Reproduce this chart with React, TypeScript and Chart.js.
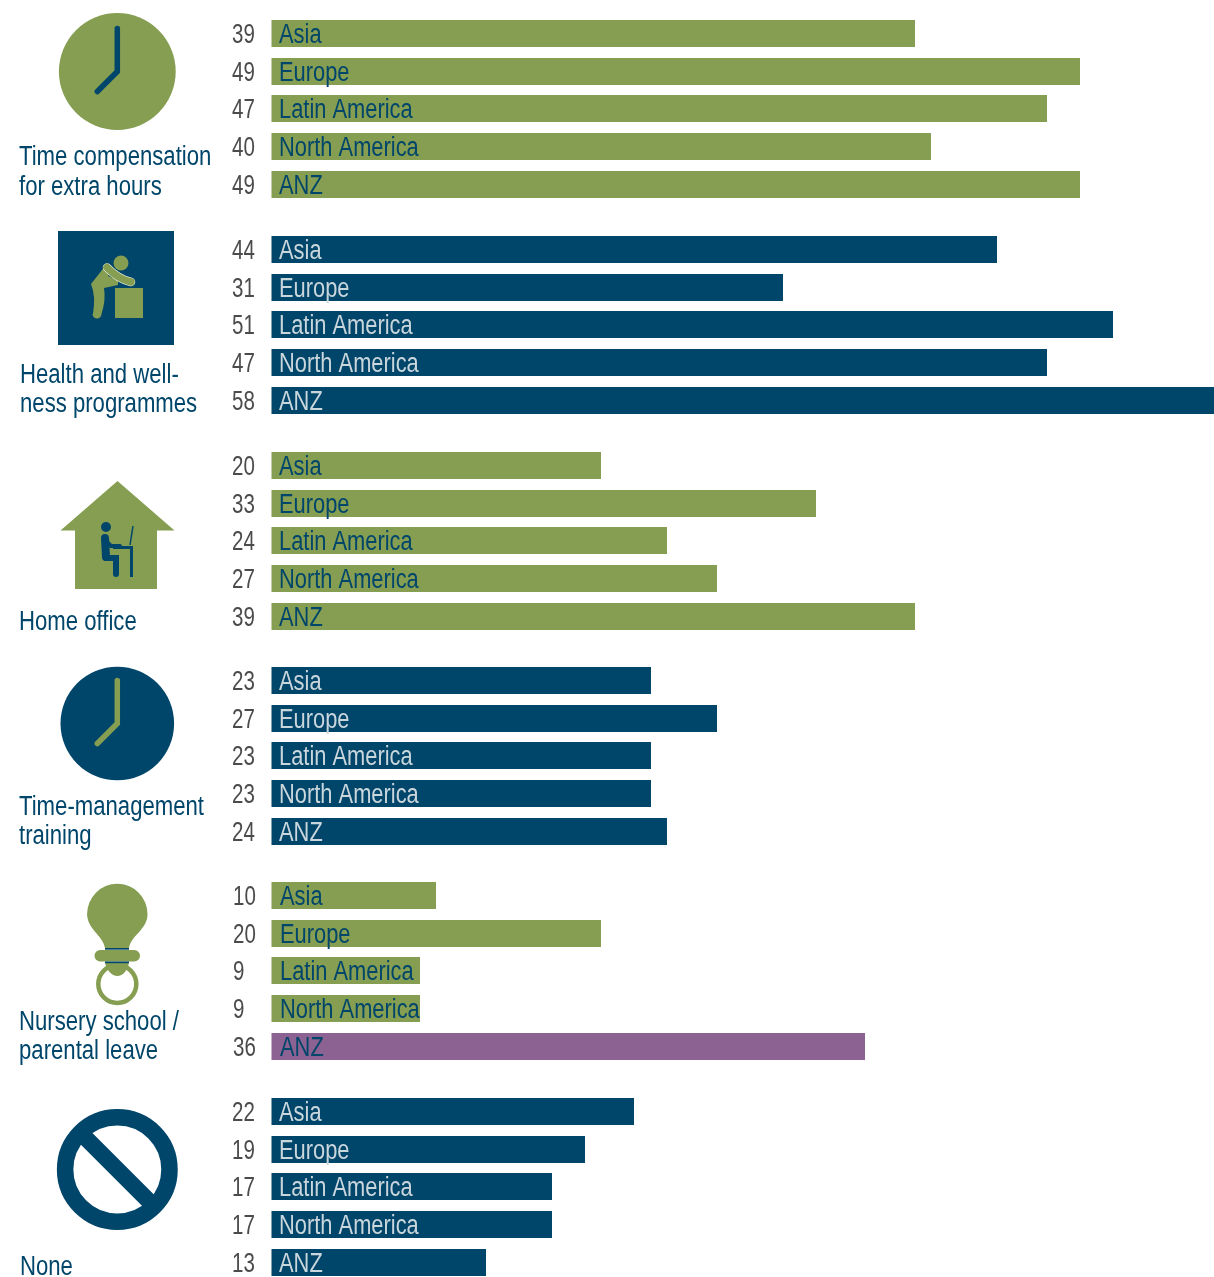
import React, { useEffect, useRef } from "react";
import { Chart, registerables } from "chart.js";

Chart.register(...registerables);

const regions = ["Asia", "Europe", "Latin America", "North America", "ANZ"];
const timeCompensation = [39, 49, 47, 40, 49];
const healthWellness = [44, 31, 51, 47, 58];
const homeOffice = [20, 33, 24, 27, 39];
const timeManagement = [23, 27, 23, 23, 24];
const nurserySchool = [10, 20, 9, 9, 36];
const noneOfThem = [22, 19, 17, 17, 13];

const groupValues = [timeCompensation, healthWellness, homeOffice, timeManagement, nurserySchool, noneOfThem];

const GREEN = "#859E51";
const NAVY = "#00456A";
const PURPLE = "#8B6291";
const VALUE_TEXT = "#4B4B4D";
const LIGHT_TEXT = "#C9D6DC";

const groupColors = [GREEN, NAVY, GREEN, NAVY, GREEN, NAVY];
const groupTitles: { text: string; x: number; y: number }[][] = [
  [{ text: "Time compensation", x: 19, y: 165 }, { text: "for extra hours", x: 19, y: 195 }],
  [{ text: "Health and well-", x: 20, y: 383 }, { text: "ness programmes", x: 20, y: 412 }],
  [{ text: "Home office", x: 19, y: 630 }],
  [{ text: "Time-management", x: 19, y: 815 }, { text: "training", x: 19, y: 844 }],
  [{ text: "Nursery school /", x: 19, y: 1030 }, { text: "parental leave", x: 19, y: 1059 }],
  [{ text: "None", x: 20, y: 1275 }],
];

// first row of each group, in row units of the y scale
const groupStarts = [0, 5.729, 11.459, 17.162, 22.865, 28.594];
const FONT = '27px "Liberation Sans", Arial, sans-serif';
const TEXT_SQUEEZE = 0.81;
const TITLE_SQUEEZE = 0.82;
const VALUE_SQUEEZE = 0.76;

function fillNarrow(ctx: CanvasRenderingContext2D, text: string, x: number, y: number, sx = TEXT_SQUEEZE) {
  ctx.save();
  ctx.translate(x, y);
  ctx.scale(sx, 1);
  ctx.fillText(text, 0, 0);
  ctx.restore();
}

function clock(ctx: CanvasRenderingContext2D, cx: number, cy: number, r: number, bg: string, hand: string) {
  ctx.fillStyle = bg;
  ctx.beginPath();
  ctx.arc(cx, cy, r, 0, Math.PI * 2);
  ctx.fill();
  ctx.strokeStyle = hand;
  ctx.lineWidth = 5.5;
  ctx.lineCap = "round";
  ctx.lineJoin = "miter";
  ctx.beginPath();
  ctx.moveTo(cx, cy - 43);
  ctx.lineTo(cx, cy);
  ctx.lineTo(cx - 20, cy + 20);
  ctx.stroke();
}

function drawIcons(ctx: CanvasRenderingContext2D) {
  ctx.save();
  clock(ctx, 117.3, 71.5, 58.4, GREEN, NAVY);

  // Health
  ctx.fillStyle = NAVY;
  ctx.fillRect(58, 231, 116, 114);
  ctx.fillStyle = GREEN;
  ctx.fillRect(115, 288, 28, 30);
  ctx.beginPath();
  ctx.arc(121, 263, 7.5, 0, Math.PI * 2);
  ctx.fill();
  ctx.beginPath();
  ctx.moveTo(106, 265);
  ctx.lineTo(91, 284);
  ctx.quadraticCurveTo(96, 296, 93, 314);
  ctx.arc(97, 314, 4.5, Math.PI, 0, true);
  ctx.quadraticCurveTo(106, 300, 104, 288);
  ctx.lineTo(118, 285);
  ctx.lineTo(118, 280);
  ctx.lineTo(108, 276);
  ctx.lineTo(112, 270);
  ctx.closePath();
  ctx.fill();
  ctx.lineCap = "round";
  ctx.strokeStyle = "#E8EEE0";
  ctx.lineWidth = 8.5;
  ctx.beginPath();
  ctx.moveTo(107, 267.5);
  ctx.quadraticCurveTo(118, 279, 131, 282);
  ctx.stroke();
  ctx.strokeStyle = GREEN;
  ctx.lineWidth = 7.5;
  ctx.stroke();

  // House
  ctx.fillStyle = GREEN;
  ctx.beginPath();
  ctx.moveTo(117.5, 481);
  ctx.lineTo(174.5, 530.5);
  ctx.lineTo(157, 530.5);
  ctx.lineTo(157, 589);
  ctx.lineTo(75, 589);
  ctx.lineTo(75, 530.5);
  ctx.lineTo(60.5, 530.5);
  ctx.closePath();
  ctx.fill();
  ctx.fillStyle = NAVY;
  ctx.strokeStyle = NAVY;
  ctx.beginPath();
  ctx.arc(106, 527, 5, 0, Math.PI * 2);
  ctx.fill();
  ctx.lineCap = "round";
  ctx.lineWidth = 8;
  ctx.beginPath();
  ctx.moveTo(105, 538);
  ctx.lineTo(106, 557);
  ctx.stroke();
  ctx.lineWidth = 6;
  ctx.beginPath();
  ctx.moveTo(106, 558);
  ctx.lineTo(116, 558);
  ctx.lineTo(116, 574);
  ctx.stroke();
  ctx.lineWidth = 4;
  ctx.beginPath();
  ctx.moveTo(106, 541);
  ctx.lineTo(111, 546);
  ctx.lineTo(120, 546);
  ctx.stroke();
  ctx.lineCap = "butt";
  ctx.lineWidth = 3;
  ctx.beginPath();
  ctx.moveTo(113, 547.5);
  ctx.lineTo(133, 547.5);
  ctx.moveTo(131.5, 547);
  ctx.lineTo(131.5, 577);
  ctx.stroke();
  ctx.lineWidth = 1.5;
  ctx.beginPath();
  ctx.moveTo(130, 545);
  ctx.lineTo(133, 526);
  ctx.stroke();

  clock(ctx, 117.3, 723.5, 56.8, NAVY, GREEN);

  // Pacifier
  ctx.strokeStyle = GREEN;
  ctx.lineWidth = 4.5;
  ctx.beginPath();
  ctx.arc(117.3, 984, 19, 0, Math.PI * 2);
  ctx.stroke();
  ctx.fillStyle = GREEN;
  ctx.beginPath();
  ctx.moveTo(105, 948);
  ctx.bezierCurveTo(103, 935, 87, 930, 87, 913);
  ctx.arc(117.3, 914, 30.2, Math.PI, 0);
  ctx.bezierCurveTo(147.5, 930, 131, 935, 129, 948);
  ctx.closePath();
  ctx.fill();
  ctx.beginPath();
  ctx.moveTo(105, 962);
  ctx.bezierCurveTo(106, 970, 112, 976, 117.3, 976);
  ctx.bezierCurveTo(123, 976, 128, 970, 129, 962);
  ctx.closePath();
  ctx.fill();
  ctx.beginPath();
  ctx.roundRect(94.5, 950, 45.5, 11.5, 5.7);
  ctx.fill();
  ctx.fillStyle = NAVY;
  ctx.fillRect(105, 948, 24, 1.7);
  ctx.fillRect(105, 961.5, 24, 1.7);

  // None
  ctx.strokeStyle = NAVY;
  ctx.lineWidth = 16.5;
  ctx.lineCap = "butt";
  ctx.beginPath();
  ctx.arc(117.3, 1169.5, 52.2, 0, Math.PI * 2);
  ctx.stroke();
  ctx.beginPath();
  ctx.moveTo(117.3 - 38, 1169.5 - 38);
  ctx.lineTo(117.3 + 38, 1169.5 + 38);
  ctx.stroke();
  ctx.restore();
}

const labelsPlugin = {
  id: "infographicText",
  // Snap the bars the scales placed onto whole pixels, so their edges stay crisp.
  afterDatasetsUpdate(chart: any) {
    chart.getDatasetMeta(0).data.forEach((bar: any) => {
      bar.y = Math.floor(bar.y) + 0.5;
      bar.x = Math.round(bar.x);
      bar.base = Math.floor(bar.base);
    });
  },
  afterDatasetsDraw(chart: any) {
    const ctx: CanvasRenderingContext2D = chart.ctx;
    const meta = chart.getDatasetMeta(0);
    drawIcons(ctx);
    ctx.save();
    ctx.font = FONT;
    ctx.textBaseline = "alphabetic";
    ctx.textAlign = "left";
    groupValues.forEach((vals, g) => {
      const dx = g === 4 ? 1 : 0;
      vals.forEach((v, r) => {
        const y = meta.data[g * regions.length + r].y;
        ctx.fillStyle = VALUE_TEXT;
        fillNarrow(ctx, String(v), 232 + dx, y + 9, VALUE_SQUEEZE);
        ctx.fillStyle = groupColors[g] === NAVY ? LIGHT_TEXT : NAVY;
        fillNarrow(ctx, regions[r], 279 + dx, y + 9.5);
      });
      ctx.fillStyle = NAVY;
      groupTitles[g].forEach((t) => fillNarrow(ctx, t.text, t.x, t.y, TITLE_SQUEEZE));
    });
    ctx.restore();
  },
};

export default function App() {
  const ref = useRef<HTMLCanvasElement>(null);
  useEffect(() => {
    const points = groupValues.flatMap((vals, g) =>
      vals.map((v, r) => ({ x: v, y: groupStarts[g] + r }))
    );
    const colors = groupValues.flatMap((vals, g) =>
      vals.map((_, r) => (g === 4 && r === 4 ? PURPLE : groupColors[g]))
    );
    const chart = new Chart(ref.current!, {
      type: "bar",
      data: {
        datasets: [
          {
            data: points as any,
            backgroundColor: colors,
            barThickness: 27,
            borderWidth: 0,
            inflateAmount: 0,
          } as any,
        ],
      },
      options: {
        indexAxis: "y",
        animation: false,
        responsive: false,
        layout: { padding: { left: 271.5, right: 0, top: 0, bottom: 0 } },
        plugins: { legend: { display: false }, tooltip: { enabled: false } },
        scales: {
          x: { type: "linear", min: 0, max: 57.15, display: false },
          y: { type: "linear", min: -0.89, max: 32.984, reverse: true, display: false, offset: false },
        },
      },
      plugins: [labelsPlugin],
    });
    return () => chart.destroy();
  }, []);
  return (
    <div style={{ position: "absolute", left: 0, top: 0, width: 1214, height: 1277, background: "#fff" }}>
      <canvas ref={ref} width={1214} height={1277} style={{ display: "block" }} />
    </div>
  );
}
